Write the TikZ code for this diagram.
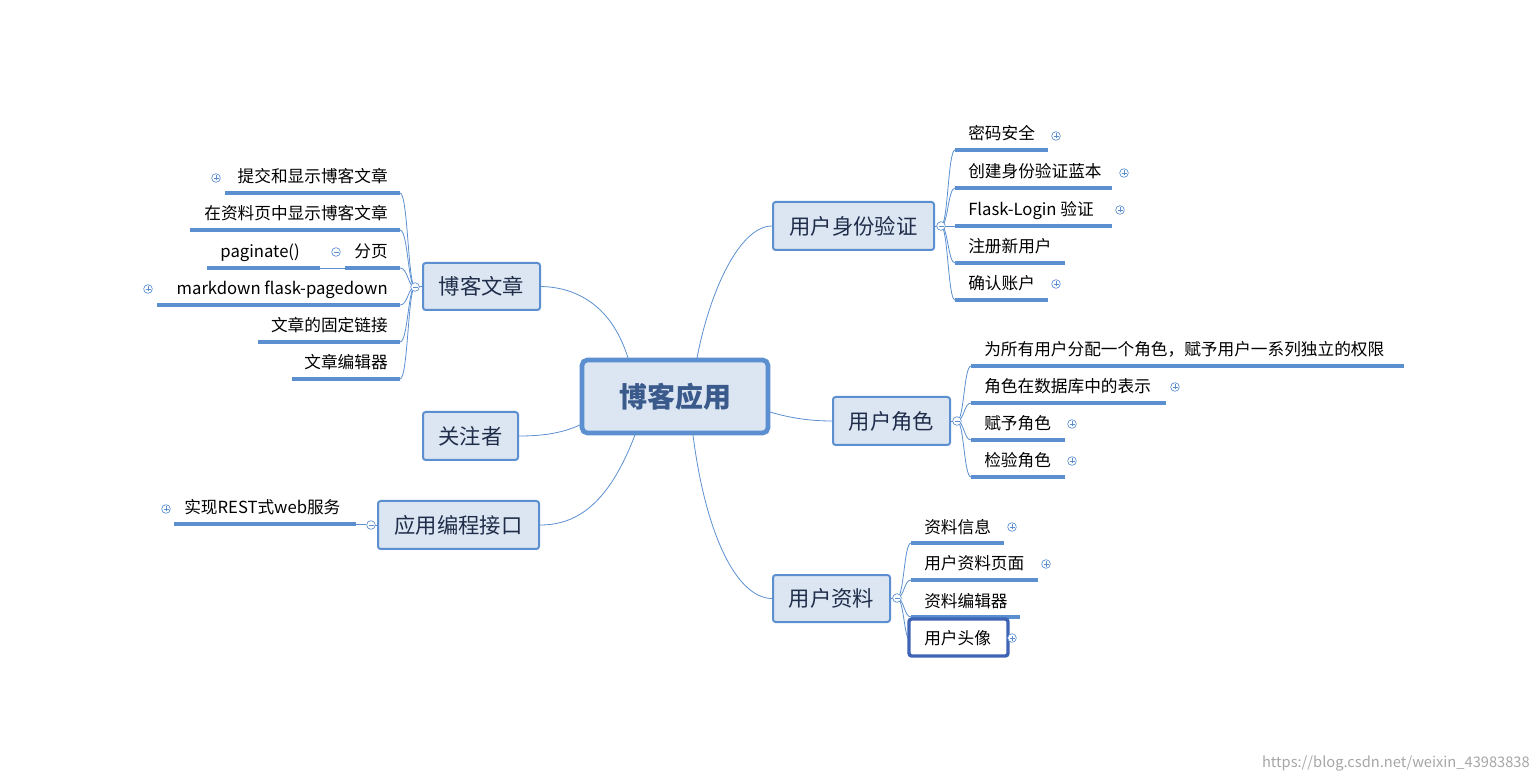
\documentclass[tikz,border=0pt]{standalone}
\usepackage{fontspec}
\setmainfont{Noto Sans CJK SC}
\definecolor{bfill}{HTML}{DCE6F2}
\definecolor{bdraw}{HTML}{5B8FD0}
\definecolor{tcol}{HTML}{1F2D4A}
\definecolor{ccol}{HTML}{3A5A8C}
\definecolor{sel}{HTML}{3F64B5}
\tikzset{
 main/.style={draw=bdraw,fill=bfill,line width=1.5pt,rounded corners=2pt,text=tcol,font=\fontsize{16}{18}\selectfont,inner sep=0pt},
 center/.style={draw=bdraw,fill=bfill,line width=3.5pt,rounded corners=4pt,text=ccol,font=\fontsize{21}{23}\bfseries\selectfont,inner sep=0pt},
 leaf/.style={text=black,font=\fontsize{12.5}{14}\selectfont,inner sep=0pt},
 uline/.style={draw=bdraw,line width=2.5pt},
 conn/.style={draw=bdraw,line width=0.6pt},
 pm/.style={circle,draw=bdraw,line width=0.5pt,minimum size=6.5pt,inner sep=0pt,fill=white},
}
\newcommand{\plusat}[2]{\node[pm] at (#1,#2) {}; \draw[bdraw,line width=0.5pt] (#1-2.5,#2)--(#1+2.5,#2) (#1,#2-2.5)--(#1,#2+2.5);}
\newcommand{\minusat}[2]{\node[pm] at (#1,#2) {}; \draw[bdraw,line width=0.5pt] (#1-2.5,#2)--(#1+2.5,#2);}
\begin{document}
\begin{tikzpicture}[x=0.75pt,y=-0.75pt]
\useasboundingbox (0,0) rectangle (1536,780);
\node[center,minimum width=186pt*0.75,minimum height=73pt*0.75] (c) at (675,396.5) {博客应用};
\node[main,minimum width=117*0.75pt,minimum height=47*0.75pt] (bk) at (481.5,286.5) {博客文章};
\node[main,minimum width=95*0.75pt,minimum height=48*0.75pt] (gz) at (470.5,436) {关注者};
\node[main,minimum width=161*0.75pt,minimum height=48*0.75pt] (api) at (458.5,525) {应用编程接口};
\node[main,minimum width=161*0.75pt,minimum height=48*0.75pt] (auth) at (853.5,226) {用户身份验证};
\node[main,minimum width=117*0.75pt,minimum height=48*0.75pt] (role) at (891.5,421) {用户角色};
\node[main,minimum width=117*0.75pt,minimum height=47*0.75pt] (prof) at (831.5,598.5) {用户资料};
\draw[conn] (628,358) .. controls (610,300) and (570,287) .. (bk.east);
\draw[conn] (580,425) .. controls (560,434) and (540,436) .. (gz.east);
\draw[conn] (635,435) .. controls (610,500) and (580,525) .. (api.east);
\draw[conn] (697,358) .. controls (710,290) and (740,226) .. (auth.west);
\draw[conn] (770,412) .. controls (790,418) and (810,421) .. (role.west);
\draw[conn] (693,435) .. controls (705,530) and (735,598) .. (prof.west);
\coordinate (bkm) at (415,287);
\foreach \y/\xs/\t in {193/225/提交和显示博客文章,230/190/在资料页中显示博客文章,268/345/分页,305/157/markdown flask-pagedown,342/258/文章的固定链接,379/292/文章编辑器}{
 \draw[conn] (bkm) .. controls (408,287) and (408,\y) .. (400,\y);
 \draw[uline] (\xs,\y)--(400,\y);
 \node[leaf,anchor=base east] at (388,\y-10) {\t};
}
\draw[conn] (bk.west)--(bkm);
\minusat{415}{287}
\plusat{216}{178}
\plusat{148}{289}
\draw[uline] (207,268)--(320,268);
\draw[conn] (320,268)--(345,268);
\node[leaf,anchor=base east] at (300,258) {paginate()};
\minusat{336}{252}
\draw[conn] (api.west)--(371,525);
\draw[conn] (366,524)--(356,524);
\draw[uline] (174,524)--(356,524);
\node[leaf,anchor=base west] at (184,514) {实现REST式web服务};
\plusat{166}{509}
\minusat{371}{525}
\coordinate (aum) at (941,226);
\draw[conn] (auth.east)--(aum);
\foreach \y/\xe/\t in {150/1048/密码安全,188/1112/创建身份验证蓝本,226/1112/Flask-Login 验证,263/1065/注册新用户,300/1048/确认账户}{
 \draw[conn] (aum) .. controls (948,226) and (948,\y) .. (955,\y);
 \draw[uline] (955,\y)--(\xe,\y);
 \node[leaf,anchor=base west] at (968,\y-10) {\t};
}
\minusat{941}{226}
\plusat{1056}{136}\plusat{1124}{173}\plusat{1120}{210}\plusat{1056}{284}
\coordinate (rom) at (957,421);
\draw[conn] (role.east)--(rom);
\foreach \y/\xe/\t in {366/1404/为所有用户分配一个角色，赋予用户一系列独立的权限,403/1166/角色在数据库中的表示,440/1065/赋予角色,477/1065/检验角色}{
 \draw[conn] (rom) .. controls (964,421) and (964,\y) .. (971,\y);
 \draw[uline] (971,\y)--(\xe,\y);
 \node[leaf,anchor=base west] at (984,\y-10) {\t};
}
\minusat{957}{421}
\plusat{1175}{387}\plusat{1072}{424}\plusat{1072}{461}
\coordinate (prm) at (897,598);
\draw[conn] (prof.east)--(prm);
\foreach \y/\xe/\t in {543/1004/资料信息,580/1038/用户资料页面,617/1020/资料编辑器}{
 \draw[conn] (prm) .. controls (904,598) and (904,\y) .. (911,\y);
 \draw[uline] (911,\y)--(\xe,\y);
 \node[leaf,anchor=base west] at (924,\y-10) {\t};
}
\draw[conn] (prm) .. controls (904,598) and (904,640) .. (910,640);
\draw[draw=sel,line width=2.5pt,rounded corners=2pt] (909,619) rectangle (1008,656);
\node[leaf,anchor=base west] at (924,644) {用户头像};
\minusat{897}{598}
\plusat{1012}{527}\plusat{1046}{564}\plusat{1012}{638}
\node[anchor=base east,text=gray!70,font=\fontsize{11}{13}\selectfont,inner sep=0pt] at (1530,767) {https://blog.csdn.net/weixin\_43983838};
\end{tikzpicture}
\end{document}
